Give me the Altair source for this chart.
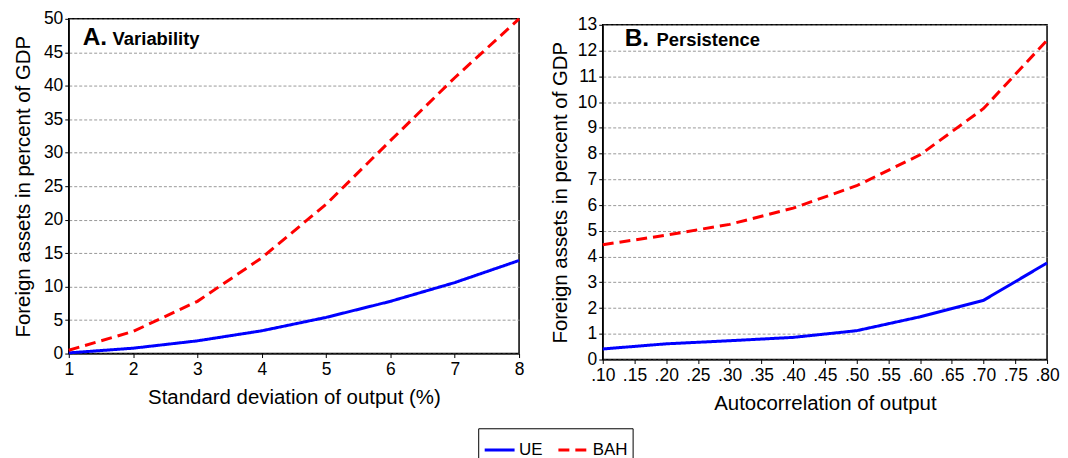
import altair as alt
import pandas as pd

series = ["UE", "BAH"]
colors = ["#0000ff", "#ff0000"]

# Panel A: variability
sd_x = [1, 2, 3, 4, 5, 6, 7, 8]
sd_ue = [0.1, 0.8, 1.9, 3.4, 5.4, 7.8, 10.6, 13.9]
sd_bah = [0.5, 3.3, 7.8, 14.3, 22.3, 31.8, 41.2, 50.0]

# Panel B: persistence
ac_x = [0.10, 0.20, 0.30, 0.40, 0.50, 0.60, 0.70, 0.80]
ac_ue = [0.41, 0.61, 0.73, 0.86, 1.12, 1.66, 2.3, 3.75]
ac_bah = [4.46, 4.83, 5.25, 5.88, 6.75, 7.95, 9.75, 12.4]

a_yticks = list(range(0, 51, 5))
b_yticks = list(range(0, 14))
b_xticks = [0.10, 0.15, 0.20, 0.25, 0.30, 0.35, 0.40, 0.45, 0.50, 0.55, 0.60, 0.65, 0.70, 0.75, 0.80]

FONT = "Liberation Sans"
LABEL_FS = 17.5
TITLE_FS = 20.5


def long_df(xs, ue, bah):
    rows = []
    for x, v in zip(xs, ue):
        rows.append({"x": x, "y": v, "s": "UE"})
    for x, v in zip(xs, bah):
        rows.append({"x": x, "y": v, "s": "BAH"})
    return pd.DataFrame(rows)


color = alt.Color("s:N", scale=alt.Scale(domain=series, range=colors),
                  legend=alt.Legend(title=None, orient="none", legendX=411, legendY=411,
                                    direction="horizontal", symbolType="stroke",
                                    symbolSize=900, symbolStrokeWidth=3,
                                    labelFontSize=17, labelFont=FONT, labelColor="black",
                                    strokeColor="black", padding=5, fillColor="white",
                                    columnPadding=9, labelOffset=3))
dash = alt.StrokeDash("s:N", scale=alt.Scale(domain=series, range=[[1, 0], [11, 6]]), legend=None)


def panel(df, xdom, xvals, xtitle, ydom, yvals, title_pad, label_expr=None):
    xaxis_kwargs = dict(values=xvals, title=xtitle, grid=False, tickSize=4,
                        labelFontSize=LABEL_FS, titleFontSize=TITLE_FS, titlePadding=10,
                        labelPadding=3, labelFlush=False)
    if label_expr:
        xaxis_kwargs["labelExpr"] = label_expr
    line = alt.Chart(df).mark_line(strokeWidth=3).encode(
        x=alt.X("x:Q", scale=alt.Scale(domain=xdom, nice=False, zero=False),
                axis=alt.Axis(**xaxis_kwargs)),
        y=alt.Y("y:Q", scale=alt.Scale(domain=ydom, nice=False),
                axis=alt.Axis(values=yvals, title="Foreign assets in percent of GDP",
                              grid=True, gridDash=[3, 2], gridColor="#999999", gridWidth=1,
                              tickSize=4, labelFontSize=LABEL_FS, titleFontSize=TITLE_FS,
                              titlePadding=title_pad, labelPadding=2)),
        color=color,
        strokeDash=dash,
    )
    return line


def text_label(txt, size, x, y):
    return alt.Chart().mark_text(text=txt, fontSize=size, fontWeight="bold", align="left",
                                 baseline="alphabetic", font=FONT, color="black").encode(
        x=alt.value(x), y=alt.value(y))


panel_a = panel(long_df(sd_x, sd_ue, sd_bah), [1, 8], sd_x,
                "Standard deviation of output (%)", [0, 50], a_yticks, 10)
chart_a = alt.layer(panel_a, text_label("A.", 24.5, 14, 26),
                    text_label("Variability", 18.5, 44, 26)).properties(width=452, height=336)

panel_b = panel(long_df(ac_x, ac_ue, ac_bah), [0.10, 0.80], b_xticks,
                "Autocorrelation of output", [0, 13], b_yticks, 7,
                label_expr="replace(format(datum.value, '.2f'), '0.', '.')")
chart_b = alt.layer(panel_b, text_label("B.", 24.5, 22, 21),
                    text_label("Persistence", 18.5, 54, 21)).properties(width=446, height=336)

spacer = alt.Chart(pd.DataFrame({"a": [0]})).mark_rule(strokeOpacity=0).encode(
    x=alt.value(0), y=alt.value(0)
).properties(width=446, height=1, view=alt.ViewBackground(strokeOpacity=0, strokeWidth=0))

col_b = alt.vconcat(spacer, chart_b, spacing=-5)

chart = alt.hconcat(chart_a, col_b, spacing=23).properties(
    padding={"left": 4, "top": 0, "right": 0, "bottom": 0},
    background="white",
).configure_view(
    stroke="black", strokeWidth=1.5
).configure_axis(
    labelFont=FONT, titleFont=FONT, labelColor="black", titleColor="black",
    domainColor="black", tickColor="black", titleFontWeight="normal"
)

chart.save("out.html", embed_options={"renderer": "svg", "actions": False})
